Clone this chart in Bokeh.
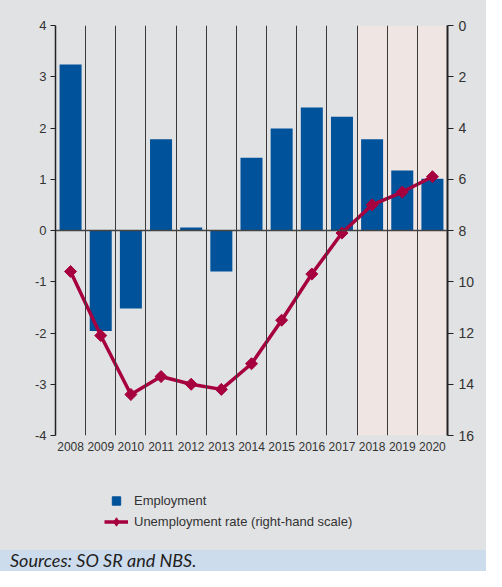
from bokeh.plotting import figure
from bokeh.layouts import column
from bokeh.models import (Range1d, LinearAxis, FixedTicker, Span, BoxAnnotation,
                          Legend, LegendItem, ColumnDataSource, Div)
from bokeh.embed import file_html
from bokeh.resources import INLINE

years = ["2008", "2009", "2010", "2011", "2012", "2013", "2014",
         "2015", "2016", "2017", "2018", "2019", "2020"]
forecast_years = ["2018", "2019", "2020"]
employment = [3.24, -1.96, -1.52, 1.78, 0.06, -0.80, 1.42,
              1.99, 2.40, 2.22, 1.78, 1.17, 1.01]
unemployment = [9.6, 12.1, 14.4, 13.7, 14.0, 14.2, 13.2,
                11.5, 9.7, 8.1, 7.0, 6.5, 5.9]
left_ticks = [-4, -3, -2, -1, 0, 1, 2, 3, 4]
right_ticks = [0, 2, 4, 6, 8, 10, 12, 14, 16]
series_names = ["Employment", "Unemployment rate (right-hand scale)"]
source_note = "Sources: SO SR and NBS."

W = 486
H_MAIN = 465
H_LEG = 85
H_FOOT = 21
BG = "#e1e2e4"
FOOT_BG = "#cddcec"
BAR = "#00529b"
LINE = "#a6003e"
TXT = "#333333"
AX = "#222222"

idx = list(range(len(years)))
src = ColumnDataSource(dict(x=idx, emp=employment, unemp=unemployment))

p = figure(width=W, height=H_MAIN, output_backend="svg", toolbar_location=None,
           x_range=Range1d(-0.5, len(years) - 0.5), y_range=Range1d(-4, 4),
           min_border_left=55, min_border_right=39, min_border_top=25,
           min_border_bottom=30)
p.background_fill_color = BG
p.border_fill_color = BG
p.outline_line_color = None
p.extra_y_ranges = {"u": Range1d(start=16, end=0)}

# forecast shading
f0 = years.index(forecast_years[0])
f1 = years.index(forecast_years[-1])
p.add_layout(BoxAnnotation(left=f0 - 0.5, right=f1 + 0.5, fill_color="#efe6e4",
                           fill_alpha=1, line_color=None, level="underlay"))

# year separators
p.ygrid.visible = False
p.xgrid.ticker = FixedTicker(ticks=[i + 0.5 for i in idx[:-1]])
p.xgrid.grid_line_color = "#3a3a3a"
p.xgrid.grid_line_width = 1
p.xgrid.level = "glyph"

p.vbar(x="x", top="emp", bottom=0, width=0.73, source=src,
       fill_color=BAR, line_color=None)

p.add_layout(Span(location=0, dimension="width", line_color="#444444", line_width=1.5))

p.line(x="x", y="unemp", source=src, y_range_name="u",
       line_color=LINE, line_width=3.5)
p.scatter(x="x", y="unemp", source=src, y_range_name="u", marker="square",
          angle=0.785398, size=8.5, fill_color=LINE, line_color=LINE)

# axes
xa = p.xaxis[0]
xa.ticker = FixedTicker(ticks=idx)
xa.major_label_overrides = {i: y for i, y in enumerate(years)}
xa.axis_line_color = None
xa.major_tick_line_color = None
xa.major_tick_out = 0
xa.major_tick_in = 0
xa.minor_tick_line_color = None
xa.major_label_standoff = 6
xa.major_label_text_font = "Liberation Sans"
xa.major_label_text_font_size = "12px"
xa.major_label_text_color = TXT

ya = p.yaxis[0]
ya.ticker = FixedTicker(ticks=left_ticks)
ya.major_label_overrides = {t: str(t) for t in left_ticks}
ya.axis_line_color = AX
ya.axis_line_width = 1.5
ya.major_tick_out = 5
ya.major_tick_in = 0
ya.major_tick_line_color = AX
ya.minor_tick_line_color = None
ya.major_label_standoff = 4
ya.major_label_text_font = "Liberation Sans"
ya.major_label_text_font_size = "13px"
ya.major_label_text_color = TXT

ra = LinearAxis(y_range_name="u", ticker=FixedTicker(ticks=right_ticks))
ra.axis_line_color = AX
ra.axis_line_width = 2
ra.major_tick_out = 6
ra.major_tick_in = 0
ra.major_tick_line_color = AX
ra.minor_tick_line_color = None
ra.major_label_standoff = 5
ra.major_label_text_font = "Liberation Sans"
ra.major_label_text_font_size = "14px"
ra.major_label_text_color = TXT
p.add_layout(ra, "right")

# legend strip: same series, drawn out of view so only the legend swatches show
q = figure(width=W, height=H_LEG, output_backend="svg", toolbar_location=None,
           x_range=Range1d(-0.5, len(years) - 0.5), y_range=Range1d(100, 200),
           x_axis_type=None, y_axis_type=None, min_border=0)
q.background_fill_color = BG
q.border_fill_color = BG
q.outline_line_color = None
q.xgrid.visible = False
q.ygrid.visible = False
sq = q.scatter(x="x", y="emp", source=src, marker="square",
               fill_color=BAR, line_color=BAR)
ln2 = q.line(x="x", y="unemp", source=src, line_color=LINE, line_width=3.5)
mk2 = q.scatter(x="x", y="unemp", source=src, marker="diamond",
                fill_color=LINE, line_color=LINE)
legend = Legend(items=[LegendItem(label=series_names[0], renderers=[sq]),
                       LegendItem(label=series_names[1], renderers=[ln2, mk2])],
                location=(49, 18), orientation="vertical",
                glyph_width=24, glyph_height=21, spacing=0, padding=0, margin=0,
                label_standoff=6, label_text_font="Liberation Sans",
                label_text_font_size="13px", label_text_color=TXT,
                background_fill_alpha=0, border_line_color=None)
q.add_layout(legend, "center")

foot = Div(text=source_note, width=W, height=H_FOOT, margin=0,
           styles={"background-color": FOOT_BG, "font-family": "Lato",
                   "font-style": "italic", "font-size": "18px", "color": "#222222",
                   "padding-left": "10px", "line-height": "21px",
                   "box-sizing": "border-box", "overflow": "hidden",
                   "white-space": "nowrap"})

layout = column(p, q, foot, spacing=0, styles={"background-color": BG})
open("out.html", "w").write(file_html(layout, INLINE))
